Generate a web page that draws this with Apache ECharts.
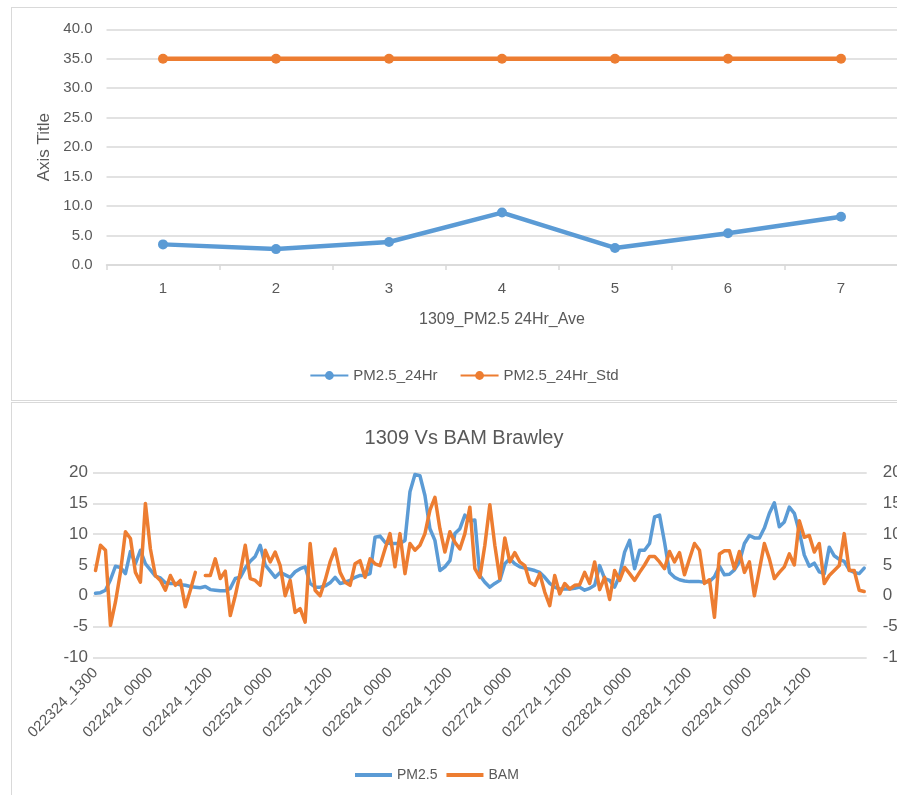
<!DOCTYPE html>
<html>
<head>
<meta charset="utf-8">
<script src="https://cdn.jsdelivr.net/npm/echarts@6/dist/echarts.min.js"></script>
<style>
    html, body { margin: 0; padding: 0; background: #fff; width: 897px; height: 795px; overflow: hidden; position: relative; }
    .panel { position: absolute; left: 11px; width: 906px; box-sizing: border-box; border: 1px solid #d9d9d9; background: #fff; }
    #avgChart { top: 7px; height: 394px; }
    #bamChart { top: 402px; height: 400px; }
</style>
</head>
<body>
<div id="avgChart" class="panel"></div>
<div id="bamChart" class="panel"></div>
<script>
    // 24小时均值图
    var days = ['1', '2', '3', '4', '5', '6', '7'];
    var pm24Hr = [3.5, 2.7, 3.9, 8.9, 2.9, 5.4, 8.2];
    var pm24HrStd = [35, 35, 35, 35, 35, 35, 35];

    // 逐小时对比图 (022324_1300 ~ 022924_2300)
    var hourLabels = [];
    for (var d = 23; d <= 29; d++) {
        for (var h = (d === 23 ? 13 : 0); h < 24; h++) {
            hourLabels.push('02' + d + '24_' + (h < 10 ? '0' + h : h) + '00');
        }
    }
    var pm25 = [
        0.4, 0.5, 0.9, 2.6, 4.8, 4.6, 3.6, 7.2, 5.2, 7.4,
        5.2, 4.2, 3.2, 2.9, 2.1, 2.0, 2.0, 1.8, 1.7, 1.5,
        1.4, 1.3, 1.5, 1.0, 0.9, 0.8, 0.8, 1.2, 2.8, 3.0,
        4.5, 5.6, 6.4, 8.2, 5.0, 4.0, 3.0, 3.8, 3.4, 3.0,
        3.9, 4.4, 4.7, 2.0, 1.4, 1.4, 1.6, 2.1, 3.0, 2.0,
        2.2, 2.5, 3.0, 3.3, 3.3, 3.6, 9.5, 9.7, 8.7, 8.5,
        8.5, 8.5, 9.0, 16.9, 19.7, 19.5, 16.3, 10.9, 9.0, 4.1,
        4.7, 5.7, 10.1, 10.9, 13.1, 12.2, 12.3, 3.3, 2.2, 1.4,
        2.0, 2.5, 5.2, 6.0, 5.2, 4.7, 4.5, 4.3, 4.1, 3.8,
        3.0, 2.0, 1.4, 1.1, 1.1, 1.1, 1.2, 1.4, 0.9, 1.2,
        1.7, 4.9, 2.8, 2.5, 1.4, 3.3, 7.1, 9.0, 4.4, 7.4,
        7.4, 8.5, 12.8, 13.1, 8.7, 3.8, 3.0, 2.6, 2.4, 2.3,
        2.3, 2.3, 2.2, 2.3, 3.1, 4.8, 3.4, 3.5, 4.2, 5.5,
        8.5, 9.8, 9.4, 9.4, 11.0, 13.4, 15.1, 11.2, 12.0, 14.4,
        13.4, 10.4, 6.6, 4.8, 5.3, 3.9, 3.6, 7.9, 6.5, 5.9,
        5.6, 4.2, 3.8, 3.6, 4.5
    ];
    var bam = [
        4.1, 8.2, 7.4, -4.8, -1.0, 3.8, 10.4, 9.3, 3.8, 2.2,
        15.0, 7.6, 3.3, 2.5, 0.9, 3.3, 1.7, 2.5, -1.8, 0.9,
        3.8, null, 3.3, 3.3, 6.0, 2.8, 4.0, -3.2, 0.0, 3.8,
        8.2, 2.8, 2.5, 1.7, 7.4, 5.5, 7.1, 4.9, 0.0, 2.5,
        -2.7, -2.1, -4.3, 8.5, 0.9, 0.0, 2.5, 5.5, 7.6, 3.8,
        2.2, 1.7, 5.2, 5.7, 3.0, 6.0, 5.2, 4.9, 7.6, 10.1,
        4.7, 10.1, 3.6, 8.5, 7.4, 8.2, 10.1, 13.9, 16.0, 10.9,
        7.1, 10.4, 8.7, 7.6, 10.1, 14.4, 4.4, 3.0, 8.2, 14.8,
        8.2, 2.8, 9.4, 5.5, 7.0, 5.5, 4.9, 2.2, 1.7, 3.6,
        0.6, -1.6, 3.3, 0.3, 2.0, 1.1, 1.7, 1.8, 3.8, 2.0,
        5.5, 1.0, 3.0, -0.6, 4.1, 2.5, 4.6, 3.6, 2.5, 3.8,
        5.0, 6.4, 6.4, 5.5, 4.4, 7.2, 5.5, 7.0, 3.4, 6.0,
        8.5, 7.4, 2.0, 2.6, -3.5, 6.8, 7.3, 7.3, 4.4, 7.2,
        3.8, 5.5, 0.0, 4.2, 8.5, 6.0, 2.8, 3.8, 4.7, 6.8,
        5.0, 12.2, 9.5, 9.8, 7.1, 8.5, 2.0, 3.3, 4.1, 4.9,
        10.1, 4.1, 4.1, 0.9, 0.7
    ];

    var font = 'Liberation Sans';
    var textColor = '#595959';
    var gridColor = '#d9d9d9';
    var blue = '#5b9bd5';
    var orange = '#ed7d31';

    var avgChart = echarts.init(document.getElementById('avgChart'));
    avgChart.setOption({
        animation: false,
        textStyle: { fontFamily: font },
        grid: { left: 94.5, top: 21.3, width: 791, height: 235.7 },
        legend: {
            top: 355,
            left: 'center',
            itemWidth: 38,
            itemHeight: 11,
            itemGap: 22,
            textStyle: { color: textColor, fontSize: 15, fontFamily: font },
            data: ['PM2.5_24Hr', 'PM2.5_24Hr_Std']
        },
        xAxis: {
            type: 'category',
            data: days,
            name: '1309_PM2.5 24Hr_Ave',
            nameLocation: 'middle',
            nameGap: 47,
            nameTextStyle: { color: textColor, fontSize: 16, fontFamily: font },
            axisLine: { lineStyle: { color: gridColor, width: 1.5 } },
            axisTick: { show: true, length: 5, lineStyle: { color: gridColor, width: 1.5 } },
            axisLabel: { color: textColor, fontSize: 15, margin: 16, fontFamily: font }
        },
        yAxis: {
            type: 'value',
            min: 0,
            max: 40,
            interval: 5,
            name: 'Axis Title',
            nameLocation: 'middle',
            nameGap: 50,
            nameRotate: 90,
            nameTextStyle: { color: textColor, fontSize: 17, fontFamily: font },
            axisLine: { show: false },
            axisTick: { show: false },
            axisLabel: {
                color: textColor,
                fontSize: 15,
                margin: 14,
                fontFamily: font,
                formatter: function(v) { return v.toFixed(1); }
            },
            splitLine: { lineStyle: { color: gridColor, width: 1.5 } }
        },
        series: [{
            name: 'PM2.5_24Hr',
            type: 'line',
            data: pm24Hr,
            symbol: 'circle',
            symbolSize: 10,
            color: blue,
            lineStyle: { width: 4.5, color: blue, join: 'round' }
        }, {
            name: 'PM2.5_24Hr_Std',
            type: 'line',
            data: pm24HrStd,
            symbol: 'circle',
            symbolSize: 10,
            color: orange,
            lineStyle: { width: 4.5, color: orange, join: 'round' }
        }]
    });

    var bamChart = echarts.init(document.getElementById('bamChart'));
    bamChart.setOption({
        animation: false,
        textStyle: { fontFamily: font },
        title: {
            text: '1309 Vs BAM Brawley',
            left: 'center',
            top: 20,
            textStyle: { color: textColor, fontSize: 20, fontWeight: 'normal', fontFamily: font }
        },
        grid: { left: 81, top: 69.7, width: 773.7, height: 184.6 },
        legend: {
            left: 338,
            top: 360,
            itemWidth: 37,
            itemHeight: 4,
            itemGap: 9,
            textStyle: { color: textColor, fontSize: 14, fontFamily: font },
            data: [{ name: 'PM2.5', icon: 'rect' }, { name: 'BAM', icon: 'rect' }]
        },
        xAxis: {
            type: 'category',
            data: hourLabels,
            boundaryGap: true,
            axisLine: { show: false, onZero: false },
            axisTick: { show: false },
            axisLabel: {
                color: textColor,
                fontSize: 15,
                fontFamily: font,
                rotate: 45,
                margin: 13,
                // 首个时间点及每天00/12点显示
                interval: function(idx, value) {
                    return idx === 0 || /_(0000|1200)$/.test(value);
                }
            }
        },
        yAxis: [{
            type: 'value',
            min: -10,
            max: 20,
            interval: 5,
            axisLine: { show: false },
            axisTick: { show: false },
            axisLabel: { color: textColor, fontSize: 17, margin: 5, fontFamily: font },
            splitLine: { lineStyle: { color: gridColor, width: 1.5 } }
        }, {
            type: 'value',
            min: -10,
            max: 20,
            interval: 5,
            position: 'right',
            axisLine: { show: false },
            axisTick: { show: false },
            axisLabel: { color: textColor, fontSize: 17, margin: 16, fontFamily: font },
            splitLine: { show: false }
        }],
        series: [{
            name: 'PM2.5',
            type: 'line',
            data: pm25,
            symbol: 'none',
            color: blue,
            lineStyle: { width: 3.5, color: blue, join: 'round', cap: 'round' }
        }, {
            name: 'BAM',
            type: 'line',
            yAxisIndex: 1,
            data: bam,
            symbol: 'none',
            color: orange,
            lineStyle: { width: 3.5, color: orange, join: 'round', cap: 'round' }
        }]
    });
</script>
</body>
</html>
